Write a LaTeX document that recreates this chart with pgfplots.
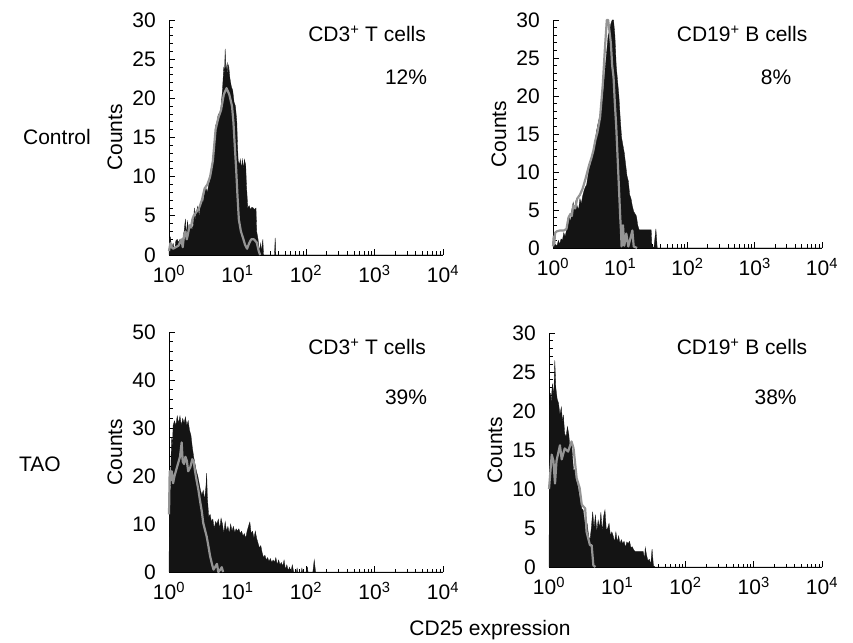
\documentclass[border=0pt]{standalone}
\usepackage{fontspec}
\setmainfont{Liberation Sans}
\usepackage{pgfplots}
\pgfplotsset{compat=1.18}
\usepackage{pgfplotstable}

% x = decade exponent (log10 of CD25 expression), y = counts
\pgfplotstableread{
e c
0.00 0
0.005 2.0
0.02 2.3
0.04 0.8
0.06 1.5
0.08 0.5
0.10 1.8
0.12 2.0
0.14 1.6
0.16 2.0
0.18 1.2
0.20 2.0
0.22 3.0
0.24 4.6
0.25 2.5
0.27 4.3
0.29 3.0
0.31 3.5
0.33 4.0
0.35 3.2
0.37 6.0
0.38 4.5
0.40 5.5
0.42 6.2
0.44 5.0
0.46 6.5
0.48 7.0
0.50 6.8
0.52 8.0
0.54 8.5
0.56 8.0
0.58 9.0
0.60 9.5
0.62 11.0
0.64 12.5
0.66 14.0
0.68 16.5
0.70 17.0
0.72 18.0
0.74 17.5
0.76 19.0
0.78 21.0
0.80 24.0
0.81 23.0
0.82 26.3
0.83 23.5
0.85 24.5
0.86 23.0
0.87 24.3
0.89 22.5
0.91 21.5
0.93 21.0
0.95 19.5
0.97 19.0
0.99 17.0
1.00 14.0
1.01 12.0
1.03 11.5
1.04 12.2
1.06 11.0
1.07 12.2
1.09 11.0
1.10 12.2
1.12 11.5
1.13 9.0
1.14 7.5
1.15 6.0
1.17 6.3
1.19 5.8
1.21 6.1
1.23 6.0
1.25 5.8
1.27 6.0
1.28 3.0
1.30 2.0
1.32 0.5
1.34 1.5
1.35 0.3
1.37 2.0
1.38 0
1.54 0
1.55 2.2
1.56 0
4.00 0
}\ctrlTblack
\pgfplotstableread{
e c
0.00 0.5
0.02 1.5
0.04 1.0
0.06 0.8
0.10 1.0
0.14 1.2
0.18 2.0
0.20 1.0
0.22 2.5
0.24 3.0
0.26 2.0
0.28 2.8
0.30 3.8
0.32 3.5
0.34 4.5
0.36 5.0
0.40 5.5
0.44 6.0
0.48 7.0
0.52 8.5
0.56 9.0
0.60 10.0
0.64 12.0
0.68 16.0
0.72 17.5
0.76 18.5
0.80 20.5
0.84 21.3
0.88 20.5
0.92 19.0
0.94 17.0
0.96 14.0
0.98 11.0
1.00 7.5
1.02 4.5
1.05 3.0
1.08 2.2
1.11 1.3
1.14 0.8
1.17 1.5
1.20 2.0
1.24 2.0
1.28 1.6
1.31 0.5
1.33 0
}\ctrlTgray
\pgfplotstableread{
e c
0.00 0
0.03 0.5
0.06 0.3
0.08 1.0
0.10 0.5
0.12 1.2
0.14 1.0
0.16 2.0
0.18 1.5
0.20 2.3
0.22 3.0
0.24 4.0
0.26 3.5
0.28 5.0
0.30 6.0
0.32 4.8
0.34 6.2
0.36 5.5
0.38 5.0
0.40 6.5
0.42 5.8
0.44 6.8
0.46 7.5
0.48 8.0
0.50 8.3
0.52 9.5
0.54 10.5
0.56 11.0
0.58 12.0
0.60 12.5
0.62 13.5
0.64 15.0
0.66 16.0
0.68 16.8
0.70 17.5
0.72 18.5
0.74 20.0
0.76 22.0
0.78 24.0
0.80 26.0
0.82 28.0
0.84 28.5
0.86 29.5
0.88 30.0
0.90 30.0
0.92 28.0
0.94 24.0
0.96 22.0
0.98 20.0
1.00 17.0
1.02 14.5
1.04 13.5
1.06 12.5
1.08 11.0
1.10 9.5
1.12 8.8
1.14 7.0
1.16 6.5
1.18 5.5
1.20 4.8
1.22 4.5
1.24 4.2
1.26 3.0
1.28 2.4
1.30 2.4
1.34 2.4
1.38 2.4
1.42 2.4
1.46 2.4
1.47 0.3
1.50 0
1.53 2.5
1.55 0
4.00 0
}\ctrlBblack
\pgfplotstableread{
e c
0.00 0.2
0.01 1.5
0.02 0.5
0.03 2.0
0.06 2.2
0.10 2.3
0.16 2.3
0.20 2.5
0.23 4.0
0.26 4.5
0.28 4.2
0.30 5.6
0.33 5.2
0.36 6.5
0.40 7.0
0.44 7.8
0.48 9.0
0.51 10.0
0.54 11.0
0.57 11.8
0.60 12.8
0.63 14.2
0.66 15.2
0.70 17.2
0.74 21.5
0.77 26.0
0.80 30.0
0.82 30.0
0.84 28.5
0.86 27.0
0.88 24.0
0.90 22.5
0.92 19.0
0.94 16.0
0.96 12.0
0.98 8.0
1.00 4.0
1.01 2.4
1.02 0.2
1.04 3.0
1.06 0.3
1.09 1.9
1.12 0.2
1.18 2.3
1.20 0.2
1.25 0
}\ctrlBgray
\pgfplotstableread{
e c
0.00 0
0.005 10
0.01 18
0.02 16
0.03 24
0.04 28
0.05 26
0.06 30.5
0.08 31.5
0.10 30.5
0.12 32.5
0.14 31.0
0.16 32.5
0.18 30.5
0.20 32.0
0.22 31.0
0.24 32.3
0.26 30.5
0.28 31.5
0.30 29.5
0.32 28.5
0.34 26.0
0.36 24.0
0.38 22.5
0.40 21.0
0.42 20.0
0.44 18.5
0.46 17.0
0.48 16.0
0.50 17.0
0.52 15.0
0.54 18.0
0.55 20.6
0.56 15.5
0.58 11.5
0.60 12.0
0.62 10.5
0.64 11.0
0.66 9.0
0.68 10.5
0.70 10.0
0.72 11.0
0.74 9.0
0.76 11.2
0.78 10.0
0.80 8.0
0.82 10.5
0.84 8.5
0.86 9.5
0.88 8.0
0.90 10.0
0.92 8.5
0.94 9.5
0.96 8.2
0.98 9.0
1.00 8.5
1.02 9.0
1.04 8.0
1.06 8.5
1.08 7.5
1.10 8.0
1.12 7.0
1.14 8.5
1.16 9.5
1.18 10.4
1.20 8.0
1.22 8.5
1.24 7.0
1.26 8.5
1.28 7.0
1.30 6.0
1.32 5.0
1.34 5.5
1.36 4.0
1.38 3.0
1.40 3.5
1.42 2.5
1.44 3.0
1.46 2.2
1.48 2.8
1.50 2.0
1.52 2.5
1.54 2.0
1.56 3.0
1.58 1.5
1.60 2.5
1.62 1.5
1.64 2.0
1.66 1.2
1.68 2.5
1.70 0.5
1.72 1.5
1.74 0.3
1.76 1.0
1.78 0
1.80 1.5
1.82 0
1.86 0
1.87 0.8
1.88 0
1.93 0
1.94 0.8
1.95 0
2.00 0
2.02 1.0
2.03 0
2.10 0
2.12 2.5
2.14 0
4.00 0
}\taoTblack
\pgfplotstableread{
e c
0.00 12
0.01 21
0.02 19
0.04 21
0.06 18.5
0.08 20
0.11 21.5
0.14 23
0.16 24
0.185 27
0.20 23
0.22 22.5
0.24 24
0.26 23.2
0.28 21
0.31 21.8
0.34 23.5
0.36 23
0.38 21
0.40 19.3
0.43 17
0.45 15.1
0.48 12.5
0.50 10.2
0.53 8.5
0.55 7.4
0.58 5
0.60 3.3
0.63 1.5
0.65 0.5
0.68 1.2
0.70 1.7
0.72 0
0.75 0.5
0.77 1.0
0.79 0
}\taoTgray
\pgfplotstableread{
e c
0.00 0
0.005 10
0.01 20
0.02 22.3
0.03 21
0.05 23.5
0.07 22
0.085 26.5
0.10 23
0.12 21.5
0.14 21
0.16 19.5
0.18 20.5
0.20 18.5
0.21 19.5
0.23 17.1
0.25 16.7
0.27 18
0.29 17
0.31 15.0
0.33 16
0.35 13.5
0.36 12.4
0.38 12.5
0.40 11.1
0.42 10.5
0.44 9.4
0.46 8.5
0.48 7.5
0.50 7.3
0.52 6.0
0.54 4.7
0.56 5.5
0.58 4.0
0.60 3.4
0.62 5.0
0.64 7.1
0.66 5.0
0.68 6.7
0.70 4.5
0.72 6.0
0.74 5.0
0.76 7.0
0.78 4.5
0.80 6.5
0.82 7.3
0.84 4.7
0.86 5.0
0.88 5.6
0.90 4.0
0.92 4.5
0.94 4.0
0.96 3.2
0.98 4.5
1.00 3.2
1.02 4.0
1.04 3.0
1.06 3.5
1.08 3.0
1.10 3.3
1.12 2.5
1.14 3.2
1.16 3.0
1.18 3.3
1.20 2.5
1.22 2.6
1.24 2.2
1.26 2.0
1.30 2.0
1.34 2.0
1.38 2.0
1.40 1.0
1.41 2.5
1.43 1.5
1.45 0.8
1.47 1.0
1.49 0.3
1.51 2.3
1.53 0.2
1.55 0
4.00 0
}\taoBblack
\pgfplotstableread{
e c
0.00 10
0.04 14.4
0.065 13.6
0.088 10.7
0.11 13.6
0.16 15.6
0.186 13.8
0.23 15.2
0.28 14.8
0.33 16.1
0.36 15.2
0.405 11.4
0.45 10.1
0.48 8.0
0.53 7.5
0.55 4.5
0.60 2.8
0.625 2.8
0.65 0.2
0.68 0
}\taoBgray

\pgfplotsset{
  flow/.style={
    scale only axis,
    axis lines=left,
    axis line style={-, line width=0.8pt},
    tick align=inside,
    major tick length=6pt,
    minor tick length=3.5pt,
    every tick/.style={black, line width=0.7pt},
    xmin=0, xmax=4, ymin=0,
    xtick={0,1,2,3,4},
    xticklabels={10\textsuperscript{0},10\textsuperscript{1},10\textsuperscript{2},10\textsuperscript{3},10\textsuperscript{4}},
    minor xtick={0.301,0.477,0.602,0.699,0.778,0.845,0.903,0.954,
                 1.301,1.477,1.602,1.699,1.778,1.845,1.903,1.954,
                 2.301,2.477,2.602,2.699,2.778,2.845,2.903,2.954,
                 3.301,3.477,3.602,3.699,3.778,3.845,3.903,3.954},
    xticklabel style={yshift=-3pt},
    yticklabel style={xshift=-6pt},
    clip=false,
    ylabel={Counts},
    every axis y label/.style={at={(axis description cs:0,0.5)}, xshift=-54pt, rotate=90, anchor=center},
  },
  blk/.style={fill=black!92, draw=black!92, line width=0.3pt},
  gry/.style={draw=black!42, line width=2.2pt, line join=round},
}

\begin{document}
\fontsize{21}{25}\selectfont
\begin{tikzpicture}
\useasboundingbox (0,0) rectangle (853pt,642pt);

% Control, CD3+ T cells
\begin{axis}[flow, at={(169pt,387pt)}, anchor=south west, width=274pt, height=235pt,
  ymax=30, ytick={0,5,10,15,20,25,30}, yticklabels={0,5,10,15,20,25,30}, minor y tick num=4]
  \addplot[blk] table[x=e,y=c]{\ctrlTblack} \closedcycle;
  \addplot[gry] table[x=e,y=c]{\ctrlTgray};
  \node at (rel axis cs:0.723,0.94) {CD3\textsuperscript{+} T cells};
  \node at (rel axis cs:0.865,0.757) {12\%};
\end{axis}

% Control, CD19+ B cells
\begin{axis}[flow, at={(553pt,394pt)}, anchor=south west, width=269pt, height=228pt,
  ymax=30, ytick={0,5,10,15,20,25,30}, yticklabels={0,5,10,15,20,25,30}, minor y tick num=4]
  \addplot[blk] table[x=e,y=c]{\ctrlBblack} \closedcycle;
  \addplot[gry] table[x=e,y=c]{\ctrlBgray};
  \node at (rel axis cs:0.703,0.939) {CD19\textsuperscript{+} B cells};
  \node at (rel axis cs:0.829,0.75) {8\%};
\end{axis}

% TAO, CD3+ T cells
\begin{axis}[flow, at={(169pt,70pt)}, anchor=south west, width=274pt, height=240pt,
  ymax=50, ytick={0,10,20,30,40,50}, yticklabels={0,10,20,30,40,50}, minor y tick num=4]
  \addplot[blk] table[x=e,y=c]{\taoTblack} \closedcycle;
  \addplot[gry] table[x=e,y=c]{\taoTgray};
  \node at (rel axis cs:0.723,0.9375) {CD3\textsuperscript{+} T cells};
  \node at (rel axis cs:0.865,0.729) {39\%};
\end{axis}

% TAO, CD19+ B cells
\begin{axis}[flow, at={(549pt,75pt)}, anchor=south west, width=273pt, height=234pt,
  ymax=30, ytick={0,5,10,15,20,25,30}, yticklabels={0,5,10,15,20,25,30}, minor y tick num=4]
  \addplot[blk] table[x=e,y=c]{\taoBblack} \closedcycle;
  \addplot[gry] table[x=e,y=c]{\taoBgray};
  \node at (rel axis cs:0.707,0.94) {CD19\textsuperscript{+} B cells};
  \node at (rel axis cs:0.83,0.726) {38\%};
\end{axis}

\node at (57pt,505pt) {Control};
\node at (40pt,178pt) {TAO};
\node at (490pt,12pt) {CD25 expression};
\end{tikzpicture}
\end{document}
